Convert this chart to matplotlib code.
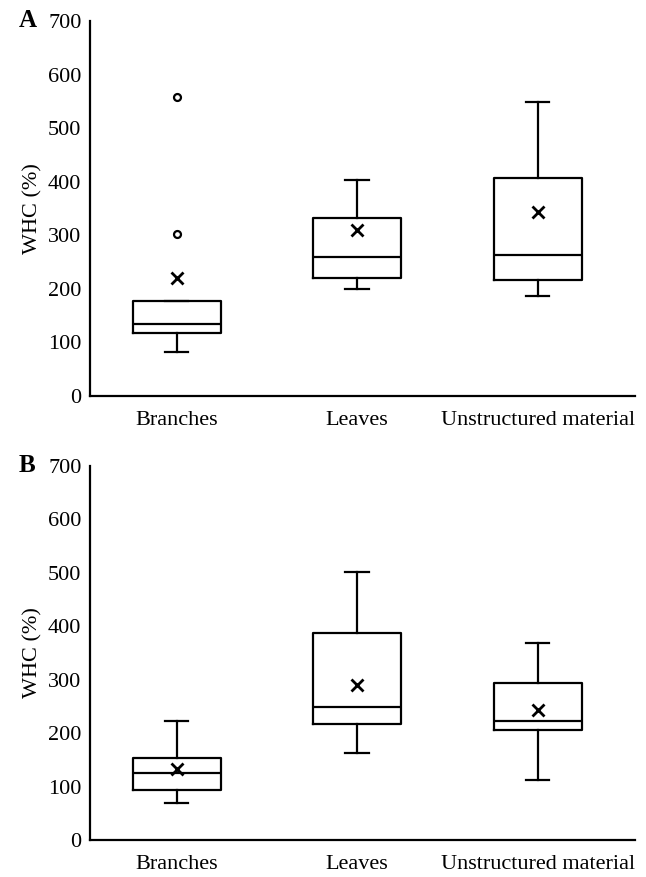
import matplotlib.pyplot as plt

plt.rcParams['font.family'] = ['Liberation Serif', 'DejaVu Serif']

categories = ['Branches', 'Leaves', 'Unstructured material']

# panel A
a_low = [83, 199, 186]
a_q1 = [117, 221, 216]
a_med = [134, 260, 264]
a_q3 = [177, 332, 406]
a_high = [177, 403, 549]
a_mean = [220, 310, 343]
a_fliers = [[302, 558], [], []]

# panel B
b_low = [70, 162, 113]
b_q1 = [93, 216, 205]
b_med = [125, 249, 222]
b_q3 = [154, 388, 294]
b_high = [223, 502, 368]
b_mean = [132, 289, 243]
b_fliers = [[], [], []]

yticks = [0, 100, 200, 300, 400, 500, 600, 700]


def make_stats(low, q1, med, q3, high, mean, fliers):
    out = []
    for i in range(len(categories)):
        out.append(dict(whislo=low[i], q1=q1[i], med=med[i], q3=q3[i],
                        whishi=high[i], mean=mean[i], fliers=fliers[i]))
    return out


fig = plt.figure(figsize=(6.46, 8.77), dpi=100)
axA = fig.add_axes([0.139, 0.5485, 0.844, 0.4276])
axB = fig.add_axes([0.139, 0.0422, 0.844, 0.4268])

panels = [
    (axA, 'A', make_stats(a_low, a_q1, a_med, a_q3, a_high, a_mean, a_fliers)),
    (axB, 'B', make_stats(b_low, b_q1, b_med, b_q3, b_high, b_mean, b_fliers)),
]

lw = 1.6
for ax, letter, stats in panels:
    ax.bxp(stats, positions=[1, 2, 3], widths=0.488, capwidths=0.13,
           showmeans=True, showfliers=True,
           boxprops=dict(color='black', linewidth=lw),
           medianprops=dict(color='black', linewidth=lw),
           whiskerprops=dict(color='black', linewidth=lw),
           capprops=dict(color='black', linewidth=lw),
           meanprops=dict(marker='x', markeredgecolor='black', markersize=9,
                          markeredgewidth=2),
           flierprops=dict(marker='o', markerfacecolor='none',
                           markeredgecolor='black', markersize=5,
                           markeredgewidth=1.6))
    ax.set_xlim(0.518, 3.54)
    ax.set_ylim(0, 700)
    ax.set_yticks(yticks)
    ax.set_xticks([1, 2, 3])
    ax.set_xticklabels(categories)
    ax.tick_params(axis='both', length=0, labelsize=16)
    ax.tick_params(axis='y', pad=6)
    ax.tick_params(axis='x', pad=11)
    ax.spines['top'].set_visible(False)
    ax.spines['right'].set_visible(False)
    ax.spines['left'].set_linewidth(1.6)
    ax.spines['bottom'].set_linewidth(1.6)
    ax.set_ylabel('WHC (%)', fontsize=16, labelpad=4)
    ax.text(-0.131, 1.0, letter, transform=ax.transAxes, fontsize=18,
            fontweight='bold', ha='left', va='center')

fig.savefig('out.png', dpi=100)
